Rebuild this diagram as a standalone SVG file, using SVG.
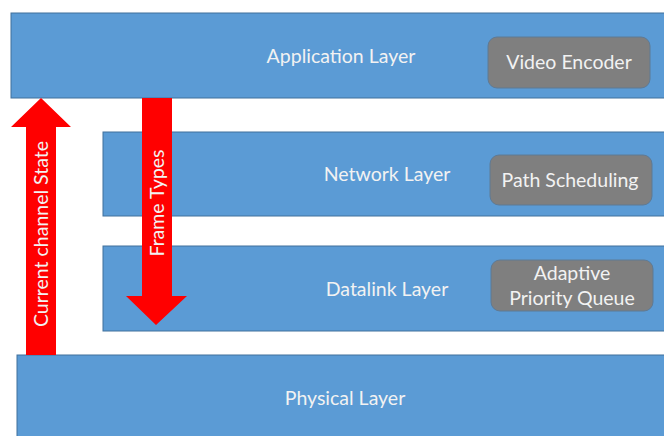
<svg xmlns="http://www.w3.org/2000/svg" width="664" height="436" viewBox="0 0 664 436">
  <style>
    .layer { fill: #5b9bd5; stroke: #41719c; stroke-width: 1; }
    .block { fill: #7f7f7f; stroke: #5f7a94; stroke-width: 1; }
    .arrow { fill: #ff0000; }
    text { font-family: Lato, "Liberation Sans", sans-serif; font-size: 19.5px; fill: #f2f2f2; text-anchor: middle; }
  </style>
  <rect width="664" height="436" fill="#ffffff"/>

  <g id="application-layer">
    <rect class="layer" x="11" y="13" width="660" height="85"/>
    <text x="341" y="63">Application Layer</text>
  </g>
  <g id="video-encoder">
    <rect class="block" x="488" y="37" width="162" height="51" rx="9"/>
    <text x="569" y="69">Video Encoder</text>
  </g>

  <g id="network-layer">
    <rect class="layer" x="103" y="132" width="570" height="84"/>
    <text x="387" y="181">Network Layer</text>
  </g>
  <g id="path-scheduling">
    <rect class="block" x="490" y="155" width="162" height="50" rx="9"/>
    <text x="570" y="187">Path Scheduling</text>
  </g>

  <g id="datalink-layer">
    <rect class="layer" x="103" y="246" width="570" height="85"/>
    <text x="387" y="296">Datalink Layer</text>
  </g>
  <g id="adaptive-priority-queue">
    <rect class="block" x="491" y="260" width="162" height="51" rx="9"/>
    <text x="572" y="280">Adaptive</text>
    <text x="572" y="305">Priority Queue</text>
  </g>

  <g id="physical-layer">
    <rect class="layer" x="17" y="355" width="660" height="90"/>
    <text x="345" y="405">Physical Layer</text>
  </g>

  <g id="connectors">
    <g id="current-channel-state">
      <polygon class="arrow" points="41,98 71,127 56,127 56,355 26,355 26,127 11,127"/>
      <text transform="translate(48,234) rotate(-90)">Current channel State</text>
    </g>
    <g id="frame-types">
      <polygon class="arrow" points="142,98 172,98 172,296 187,296 156,325 126,296 142,296"/>
      <text transform="translate(164,203) rotate(-90)">Frame Types</text>
    </g>
  </g>
</svg>
